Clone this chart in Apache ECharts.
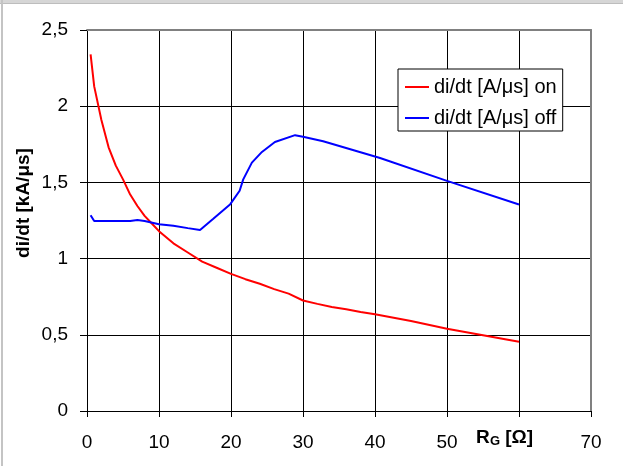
<!DOCTYPE html>
<html><head><meta charset="utf-8">
<script src="https://cdn.jsdelivr.net/npm/echarts@6/dist/echarts.min.js"></script>
<style>html,body{margin:0;padding:0;background:#fff}#c{width:623px;height:466px}</style>
</head><body><div id="c"></div>
<script>
// R_G [Ohm] values and di/dt values
const xOn = [0.5, 1, 2, 3, 4, 5, 6, 7, 8, 9, 10, 12, 14, 16, 18, 20, 22, 24, 26, 28, 30, 32, 34, 36, 38, 40, 45, 50, 55, 60];
const yOn = [2.34, 2.13, 1.91, 1.73, 1.61, 1.52, 1.42, 1.345, 1.28, 1.23, 1.18, 1.10, 1.04, 0.98, 0.94, 0.90, 0.865, 0.835, 0.80, 0.77, 0.725, 0.703, 0.683, 0.668, 0.65, 0.635, 0.59, 0.54, 0.497, 0.454];
const xOff = [0.5, 1, 2, 4, 6, 7, 8, 10, 12, 14, 15.7, 17.5, 19.9, 21.2, 21.7, 22.9, 24.3, 26.1, 28.9, 30, 32.8, 40.7, 50, 60];
const yOff = [1.285, 1.247, 1.247, 1.247, 1.247, 1.254, 1.247, 1.226, 1.215, 1.20, 1.188, 1.26, 1.357, 1.445, 1.52, 1.63, 1.70, 1.765, 1.81, 1.80, 1.77, 1.66, 1.51, 1.355];
const seriesNames = ['di/dt [A/μs] on', 'di/dt [A/μs] off'];
const yTitle = 'di/dt [kA/μs]';
const hiddenXLabels = [60]; // covered by the axis title in the reference

const FONT = "'Liberation Sans', Arial, sans-serif";
const chart = echarts.init(document.getElementById('c'), null, {renderer: 'canvas'});
const pairs = (xs, ys) => xs.map((x, i) => [x, ys[i]]);

chart.setOption({
  animation: false,
  backgroundColor: '#fff',
  textStyle: {fontFamily: FONT},
  grid: {left: 87, right: 32, top: 30, bottom: 55, containLabel: false},
  legend: {
    orient: 'vertical', left: 398, top: 69,
    icon: 'rect', itemWidth: 24, itemHeight: 2, itemGap: 11,
    padding: [8, 6, 3, 7],
    borderColor: '#000', borderWidth: 1, backgroundColor: '#fff',
    textStyle: {fontFamily: FONT, fontSize: 20, color: '#000'},
    data: seriesNames
  },
  xAxis: [{
    type: 'value', min: 0, max: 70, interval: 10, position: 'bottom',
    axisLine: {show: true, onZero: false, lineStyle: {color: '#000', width: 1}},
    axisTick: {show: true, length: 6, lineStyle: {color: '#000'}},
    axisLabel: {margin: 22, fontSize: 19, color: '#000', fontFamily: FONT,
      formatter: v => hiddenXLabels.includes(v) ? '' : String(v)},
    splitLine: {show: true, lineStyle: {color: '#000', width: 1}}
  }, {
    type: 'value', min: 0, max: 70, interval: 10, position: 'top',
    axisLine: {show: true, onZero: false, lineStyle: {color: '#808080', width: 2}},
    axisTick: {show: false}, axisLabel: {show: false}, splitLine: {show: false}
  }],
  yAxis: [{
    type: 'value', min: 0, max: 2.5, interval: 0.5, position: 'left',
    axisLine: {show: true, onZero: false, lineStyle: {color: '#000', width: 1}},
    axisTick: {show: true, length: 7, lineStyle: {color: '#000'}},
    axisLabel: {margin: 19, fontSize: 19, color: '#000', fontFamily: FONT,
      formatter: v => String(v).replace('.', ',')},
    splitLine: {show: true, lineStyle: {color: '#000', width: 1}}
  }, {
    type: 'value', min: 0, max: 2.5, interval: 0.5, position: 'right',
    axisLine: {show: true, onZero: false, lineStyle: {color: '#808080', width: 2}},
    axisTick: {show: false}, axisLabel: {show: false}, splitLine: {show: false}
  }],
  series: [{
    name: seriesNames[0], type: 'line', data: pairs(xOn, yOn),
    showSymbol: false, symbol: 'none', smooth: false,
    lineStyle: {color: '#ff0000', width: 2}, itemStyle: {color: '#ff0000'}, z: 5
  }, {
    name: seriesNames[1], type: 'line', data: pairs(xOff, yOff),
    showSymbol: false, symbol: 'none', smooth: false,
    lineStyle: {color: '#0000ff', width: 2}, itemStyle: {color: '#0000ff'}, z: 5
  }],
  graphic: [
    {type: 'rect', shape: {x: 0, y: 0, width: 623, height: 4}, style: {fill: '#d6d6d6'}, silent: true},
    {type: 'rect', shape: {x: 0, y: 3, width: 623, height: 1}, style: {fill: '#bdbdbd'}, silent: true},
    {type: 'rect', shape: {x: 1, y: 0, width: 2, height: 466}, style: {fill: '#c4c4c4'}, silent: true},
    {type: 'text', x: 24, y: 203, rotation: Math.PI / 2,
      style: {text: yTitle, font: 'bold 19px ' + FONT, fill: '#000', align: 'center', verticalAlign: 'middle'}},
    {type: 'text', x: 476, y: 437.5,
      style: {text: 'R', font: 'bold 19px ' + FONT, fill: '#000', align: 'left', verticalAlign: 'middle'}},
    {type: 'text', x: 490, y: 441.5,
      style: {text: 'G', font: 'bold 13px ' + FONT, fill: '#000', align: 'left', verticalAlign: 'middle'}},
    {type: 'text', x: 500, y: 437.5,
      style: {text: ' [Ω]', font: 'bold 19px ' + FONT, fill: '#000', align: 'left', verticalAlign: 'middle'}}
  ]
});
</script>
</body></html>
